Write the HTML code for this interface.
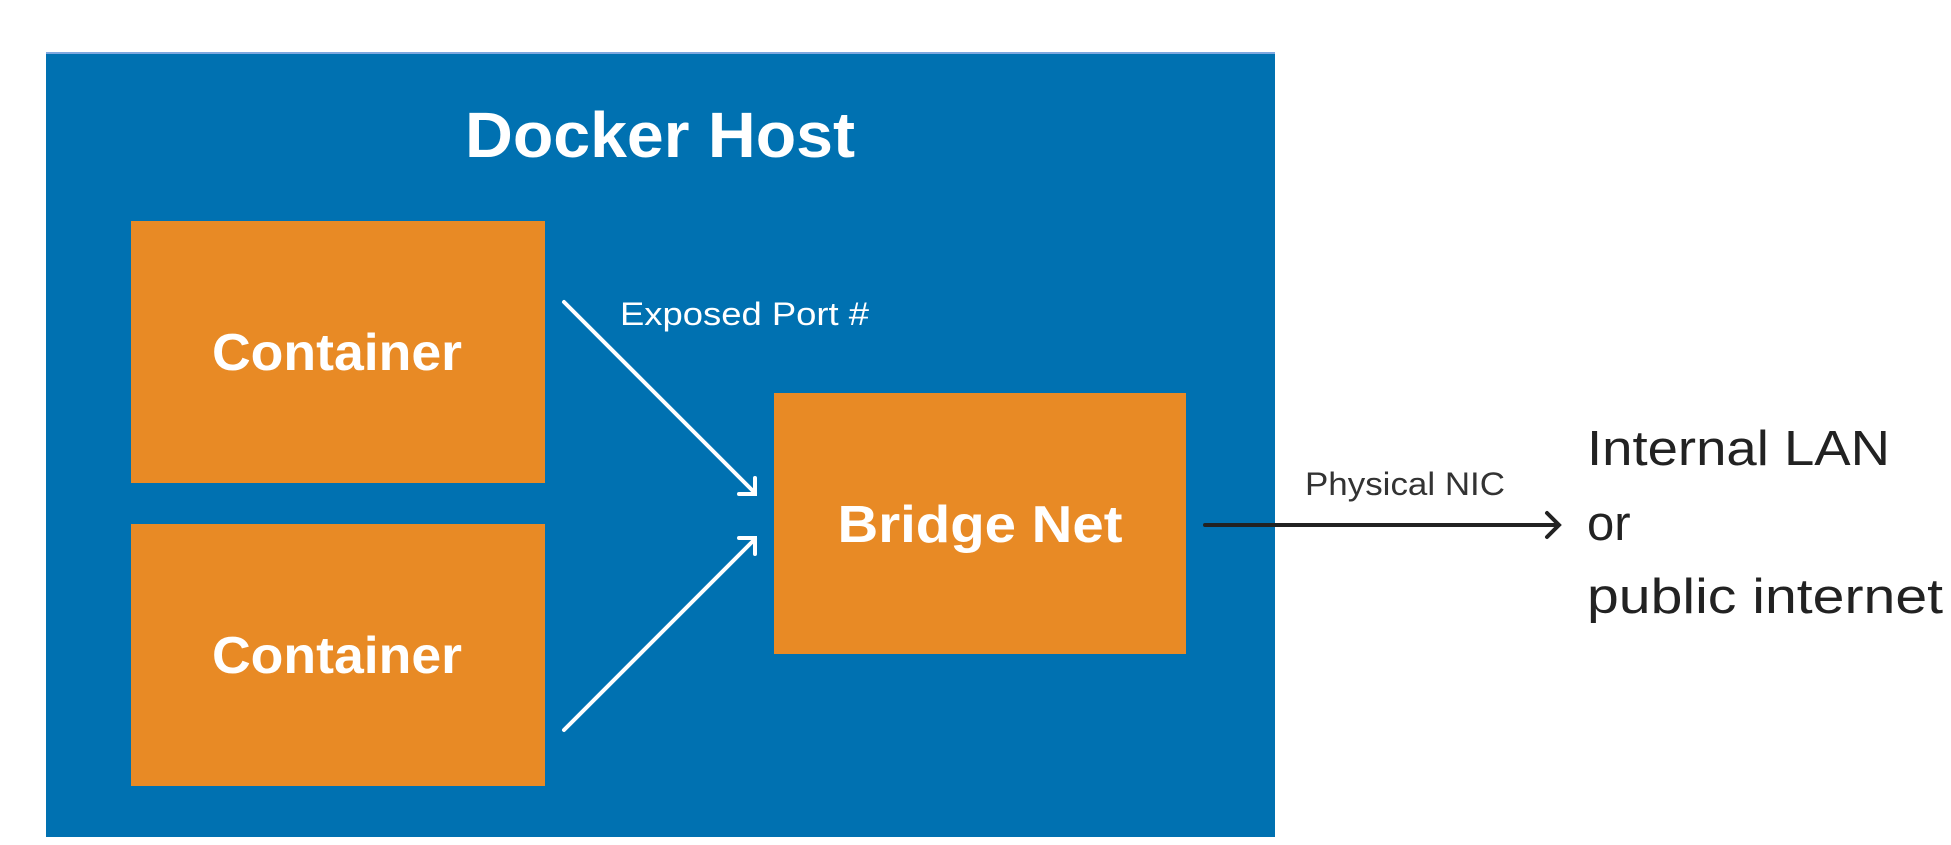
<!DOCTYPE html>
<html><head><meta charset="utf-8"><style>html,body{margin:0;padding:0;background:#fff;width:1951px;height:845px;overflow:hidden}</style></head>
<body>
<svg width="1951" height="845" viewBox="0 0 1951 845" xmlns="http://www.w3.org/2000/svg" font-family="Liberation Sans, sans-serif">
<rect x="46" y="53" width="1229" height="784" fill="#0071b1"/>
<rect x="46" y="52" width="1229" height="2" fill="#7fa8e0"/>
<rect x="131" y="221" width="414" height="262" fill="#e88a25"/>
<rect x="131" y="524" width="414" height="262" fill="#e88a25"/>
<rect x="774" y="393" width="412" height="261" fill="#e88a25"/>
<text x="660" y="157" fill="#fff" font-size="64" font-weight="bold" text-anchor="middle" textLength="390" lengthAdjust="spacingAndGlyphs">Docker Host</text>
<text x="337" y="370" fill="#fff" font-size="52" font-weight="bold" text-anchor="middle" textLength="250" lengthAdjust="spacingAndGlyphs">Container</text>
<text x="337" y="673" fill="#fff" font-size="52" font-weight="bold" text-anchor="middle" textLength="250" lengthAdjust="spacingAndGlyphs">Container</text>
<text x="980" y="542" fill="#fff" font-size="52" font-weight="bold" text-anchor="middle" textLength="285" lengthAdjust="spacingAndGlyphs">Bridge Net</text>
<text x="620" y="325" fill="#fff" font-size="32" textLength="249" lengthAdjust="spacingAndGlyphs">Exposed Port #</text>
<g stroke="#fff" stroke-width="4" fill="none" stroke-linecap="round">
<line x1="564" y1="302" x2="755" y2="493"/>
<polyline points="739,494 755,494 755,478"/>
<line x1="564" y1="730" x2="755" y2="539"/>
<polyline points="739,538 755,538 755,554"/>
</g>
<g stroke="#222" stroke-width="4" fill="none" stroke-linecap="round">
<line x1="1205" y1="525" x2="1558" y2="525"/>
<polyline points="1547,513 1559,525 1547,537"/>
</g>
<text x="1305" y="495" fill="#333" font-size="32" textLength="200" lengthAdjust="spacingAndGlyphs">Physical NIC</text>
<text x="1587" y="465" fill="#222" font-size="49" textLength="303" lengthAdjust="spacingAndGlyphs">Internal LAN</text>
<text x="1587" y="540" fill="#222" font-size="49">or</text>
<text x="1587" y="613" fill="#222" font-size="49" textLength="356" lengthAdjust="spacingAndGlyphs">public internet</text>
</svg>
</body></html>
